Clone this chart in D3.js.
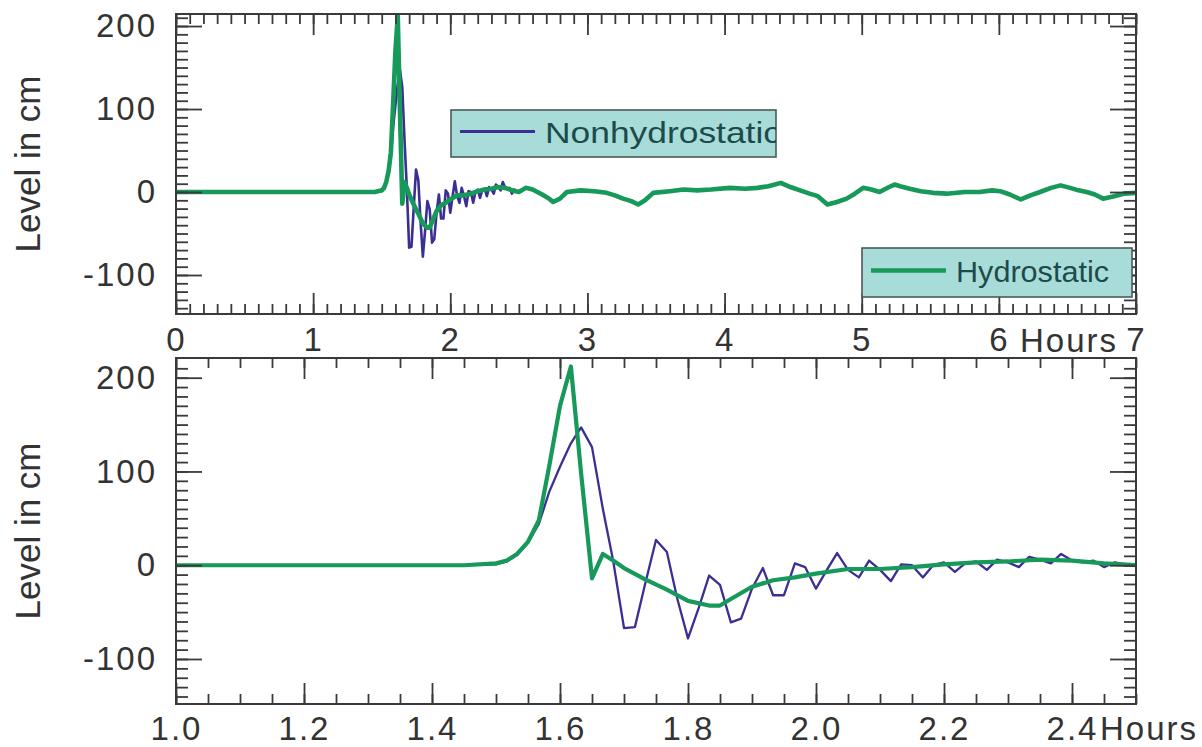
<!DOCTYPE html>
<html lang="en">
<head>
<meta charset="utf-8">
<title>Level in cm - Nonhydrostatic vs Hydrostatic</title>
<script src="https://cdn.jsdelivr.net/npm/d3@7"></script>
<style>
    body { margin: 0; background: #fff; }
    text { font-family: "Liberation Sans", Arial, sans-serif; }
</style>
</head>
<body>
<script>

// ---- data (hours, level in cm) ----

// nonhydrostatic run, 1-minute output around the wave
var nhHours = [0, 1.0, 1.45, 1.5, 1.517, 1.533, 1.55, 1.567, 1.583, 1.6, 1.617, 1.633, 1.65, 1.667, 1.683,
    1.7, 1.717, 1.733, 1.75, 1.767, 1.783, 1.8, 1.817, 1.833, 1.85, 1.867, 1.883, 1.9, 1.917, 1.933,
    1.95, 1.967, 1.983, 2.0, 2.017, 2.033, 2.05, 2.067, 2.083, 2.1, 2.117, 2.133, 2.15, 2.167, 2.183,
    2.2, 2.217, 2.233, 2.25, 2.267, 2.283, 2.3, 2.317, 2.333, 2.35, 2.367, 2.383, 2.4, 2.417, 2.433,
    2.45, 2.467, 2.483, 2.5];
var nhLevel = [0, 0, 0, 1, 4, 11, 24, 44, 78, 105, 130, 147, 126, 60, 5,
    -67, -66, -20, 27, 14, -35, -78, -45, -11, -21, -61, -57, -25, -3, -32,
    -32, 2, -2, -25, -5, 13, -5, -13, 5, -5, -17, 1, 0, -13, 0,
    3, -7, 2, 4, -5, 6, 3, -2, 9, 6, 2, 12, 5, 3, 5,
    -2, 3, 1, 0];

// hydrostatic run
var hyHours = [0, 1.0, 1.45, 1.5, 1.517, 1.533, 1.55, 1.567, 1.583, 1.6, 1.617, 1.633, 1.65, 1.667, 1.683,
    1.7, 1.733, 1.767, 1.8, 1.833, 1.85, 1.867, 1.9, 1.933, 1.967, 2.0, 2.05, 2.1, 2.15, 2.2,
    2.25, 2.3, 2.35, 2.4, 2.45, 2.5];
var hyLevel = [0, 0, 0, 2, 5, 12, 25, 48, 105, 170, 212, 98, -14, 12, 5,
    -3, -15, -26, -38, -43, -43, -36, -23, -16, -13, -9, -4, -4, -2, 1,
    3, 4, 6, 5, 2, 0];

// after 2.5 h both runs give the same curve
var lateHours = [2.55, 2.6, 2.67, 2.72, 2.75, 2.8, 2.85, 2.95, 3.05, 3.14, 3.2, 3.26, 3.32, 3.37, 3.42,
    3.48, 3.6, 3.7, 3.8, 3.9, 4.04, 4.15, 4.24, 4.32, 4.41, 4.48, 4.55, 4.62, 4.68, 4.75,
    4.82, 4.89, 4.95, 5.01, 5.07, 5.13, 5.2, 5.24, 5.28, 5.35, 5.43, 5.52, 5.62, 5.75, 5.86,
    5.95, 6.01, 6.08, 6.16, 6.23, 6.3, 6.38, 6.45, 6.52, 6.58, 6.64, 6.7, 6.76, 6.84, 6.91,
    7.0];
var lateLevel = [5, 3, -3, -8, -12, -8, 0, 2, 1, -1, -4, -8, -11, -15, -10,
    -1, 1, 3, 2, 3, 5, 4, 5, 7, 11, 6, 2, -2, -5, -15,
    -12, -8, -2, 5, 3, 0, 6, 9, 7, 4, 1, -1, -2, 0, 0,
    2, 1, -3, -9, -4, 0, 5, 8, 5, 2, 0, -3, -8, -5, -2,
    -1];

var seriesNames = ["Nonhydrostatic", "Hydrostatic"];
var topXTicks = [0, 1, 2, 3, 4, 5, 6, 7];
var botXTicks = [1.0, 1.2, 1.4, 1.6, 1.8, 2.0, 2.2, 2.4];
var yTicks = [-100, 0, 100, 200];

// ---- build point lists ----
function zipPts(hs, vs) {
    return hs.map(function (h, i) { return { h: h, v: vs[i] }; });
}
var nhPts = zipPts(nhHours, nhLevel).concat(zipPts(lateHours, lateLevel));
var hyPts = zipPts(hyHours, hyLevel).concat(zipPts(lateHours, lateLevel));

var w = 1202, h = 747;
var blue = "#3a2f92", green = "#17995a", axisCol = "#3a3a3a", labelCol = "#333";

var svg = d3.select("body").append("svg")
    .attr("width", w)
    .attr("height", h);

svg.append("rect").attr("width", w).attr("height", h).attr("fill", "#fff");

function range(a, b, step) {
    var out = [];
    for (var v = a; v <= b + 1e-9; v += step) out.push(+v.toFixed(4));
    return out;
}

// one panel: frame, ticks all round, two lines
function drawPanel(p) {
    var g = svg.append("g");
    var x = p.x, y = p.y;
    var x0 = x.range()[0], x1 = x.range()[1], y0 = y.range()[1], y1 = y.range()[0];

    var clipId = "clip" + p.id;
    svg.append("clipPath").attr("id", clipId)
        .append("rect").attr("x", x0).attr("y", y0).attr("width", x1 - x0).attr("height", y1 - y0);

    var line = d3.line().x(function (d) { return x(d.h); }).y(function (d) { return y(d.v); });

    g.append("path").datum(nhPts)
        .attr("clip-path", "url(#" + clipId + ")")
        .attr("fill", "none").attr("stroke", blue)
        .attr("stroke-width", p.blueW).attr("stroke-linejoin", "round")
        .attr("d", line);
    g.append("path").datum(hyPts)
        .attr("clip-path", "url(#" + clipId + ")")
        .attr("fill", "none").attr("stroke", green)
        .attr("stroke-width", p.greenW).attr("stroke-linejoin", "round")
        .attr("d", line);

    var minorX = range(x.domain()[0], x.domain()[1], p.minorX);
    var minorY = range(-140, 210, 10);

    function styleAxis(sel) {
        sel.select(".domain").remove();
        sel.selectAll("line").attr("stroke", axisCol).attr("stroke-width", 1.8);
        sel.selectAll("text").attr("fill", labelCol).attr("font-size", 33)
            .attr("letter-spacing", 2).attr("font-family", "Liberation Sans, Arial, sans-serif");
    }

    // minor ticks
    g.append("g").attr("transform", "translate(0," + y1 + ")")
        .call(d3.axisBottom(x).tickValues(minorX).tickSize(-10).tickFormat("")).call(styleAxis);
    g.append("g").attr("transform", "translate(0," + y0 + ")")
        .call(d3.axisTop(x).tickValues(minorX).tickSize(-10).tickFormat("")).call(styleAxis);
    g.append("g").attr("transform", "translate(" + x0 + ",0)")
        .call(d3.axisLeft(y).tickValues(minorY).tickSize(-12).tickFormat("")).call(styleAxis);
    g.append("g").attr("transform", "translate(" + x1 + ",0)")
        .call(d3.axisRight(y).tickValues(minorY).tickSize(-12).tickFormat("")).call(styleAxis);

    // major ticks with labels
    g.append("g").attr("transform", "translate(0," + y1 + ")")
        .call(d3.axisBottom(x).tickValues(p.xTicks).tickSize(-21).tickPadding(p.xPad).tickFormat(p.xFmt))
        .call(styleAxis);
    g.append("g").attr("transform", "translate(0," + y0 + ")")
        .call(d3.axisTop(x).tickValues(p.xTicks).tickSize(-21).tickFormat("")).call(styleAxis);
    g.append("g").attr("transform", "translate(" + x0 + ",0)")
        .call(d3.axisLeft(y).tickValues(yTicks).tickSize(-26).tickPadding(19)
            .tickFormat(function (d) { return String(d); }))
        .call(styleAxis);
    g.append("g").attr("transform", "translate(" + x1 + ",0)")
        .call(d3.axisRight(y).tickValues(yTicks).tickSize(-26).tickFormat("")).call(styleAxis);

    // frame
    g.append("rect")
        .attr("x", x0).attr("y", y0).attr("width", x1 - x0).attr("height", y1 - y0)
        .attr("fill", "none").attr("stroke", axisCol).attr("stroke-width", 2);

    // "Hours" unit after a tick label
    g.append("text")
        .attr("x", p.hoursX).attr("y", p.hoursY)
        .attr("fill", labelCol).attr("font-size", 33).attr("letter-spacing", 2)
        .text("Hours");

    // y title
    g.append("text")
        .attr("transform", "translate(40," + ((y0 + y1) / 2) + ") rotate(-90)")
        .attr("text-anchor", "middle")
        .attr("fill", labelCol).attr("font-size", 35)
        .text("Level in cm");
}

drawPanel({
    id: "top",
    x: d3.scaleLinear().domain([0, 7]).range([176, 1136]),
    y: d3.scaleLinear().domain([-147, 214.5]).range([314, 14]),
    xTicks: topXTicks, minorX: 0.1, xPad: 14,
    xFmt: function (d) { return String(d); },
    blueW: 2.6, greenW: 4.6,
    hoursX: 1020, hoursY: 352
});

drawPanel({
    id: "bot",
    x: d3.scaleLinear().domain([1.0, 2.5]).range([176, 1136]),
    y: d3.scaleLinear().domain([-148, 221]).range([704, 358]),
    xTicks: botXTicks, minorX: 0.05, xPad: 13,
    xFmt: d3.format(".1f"),
    blueW: 2.3, greenW: 4.2,
    hoursX: 1100, hoursY: 740
});

// ---- legends ----
function legendBox(lx, ly, lw, lh, color, sw, name, textLen) {
    var g = svg.append("g");
    var cid = "lg" + name;
    svg.append("clipPath").attr("id", cid)
        .append("rect").attr("x", lx).attr("y", ly).attr("width", lw).attr("height", lh);
    g.append("rect")
        .attr("x", lx).attr("y", ly).attr("width", lw).attr("height", lh)
        .attr("fill", "#a8dcd8").attr("stroke", "#4a5a5a").attr("stroke-width", 1.6);
    g.append("line")
        .attr("x1", lx + 9).attr("x2", lx + 84)
        .attr("y1", ly + lh * 0.46).attr("y2", ly + lh * 0.46)
        .attr("stroke", color).attr("stroke-width", sw);
    var t = g.append("text")
        .attr("clip-path", "url(#" + cid + ")")
        .attr("x", lx + 94).attr("y", ly + lh * 0.46 + 11)
        .attr("fill", "#1d4b4b").attr("font-size", 30)
        .text(name);
    if (textLen) t.attr("textLength", textLen).attr("lengthAdjust", "spacingAndGlyphs");
}

legendBox(451, 110, 325, 47, blue, 3, seriesNames[0], 236);
legendBox(862, 248, 270, 49, green, 4.5, seriesNames[1], 153);

</script>
</body>
</html>
